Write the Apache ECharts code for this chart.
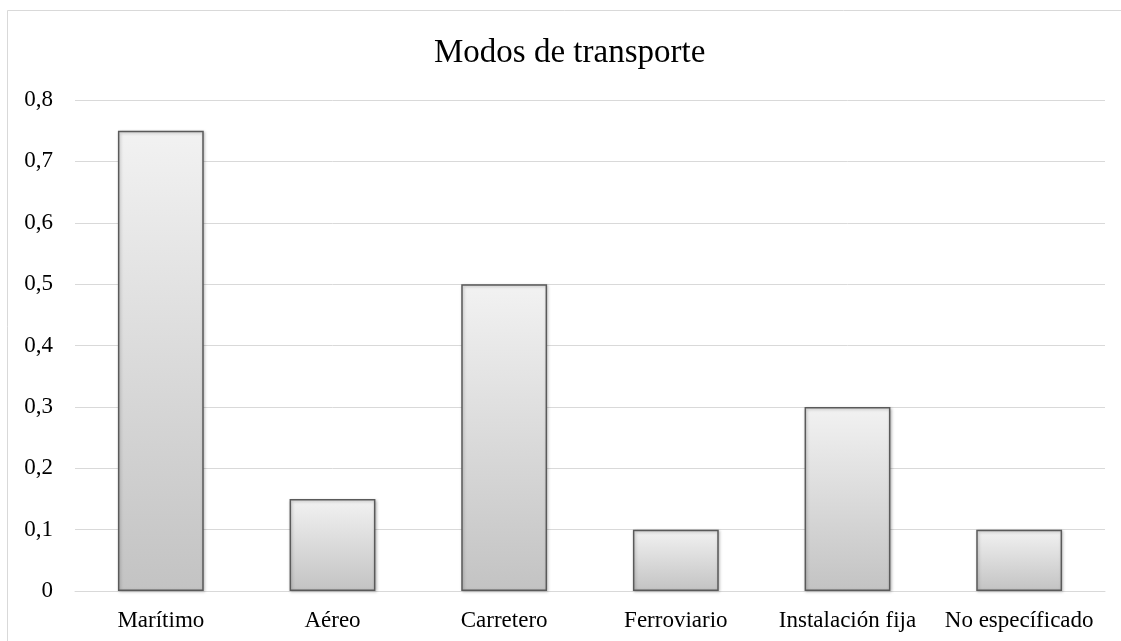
<!DOCTYPE html>
<html>
<head>
<meta charset="utf-8">
<script src="https://cdn.jsdelivr.net/npm/echarts@6/dist/echarts.min.js"></script>
<style>
  html, body { margin: 0; padding: 0; background: #fff; }
  #chart { width: 1121px; height: 641px; }
</style>
</head>
<body>
<div id="chart"></div>
<script>
// datos
const categories = ['Marítimo', 'Aéreo', 'Carretero', 'Ferroviario', 'Instalación fija', 'No específicado']
const values = [0.75, 0.15, 0.5, 0.1, 0.3, 0.1]
const yTicks = [0, 0.1, 0.2, 0.3, 0.4, 0.5, 0.6, 0.7, 0.8]

const font = '"Liberation Serif", "Times New Roman", serif'
const chart = echarts.init(document.getElementById('chart'))

chart.setOption({
  backgroundColor: '#fff',
  animation: false,
  graphic: [
    {
      type: 'rect',
      shape: { x: 7.5, y: 10.5, width: 1200, height: 700 },
      style: { fill: 'none', stroke: '#d9d9d9', lineWidth: 1 },
      silent: true
    }
  ],
  title: {
    text: 'Modos de transporte',
    left: 429,
    top: 32,
    textStyle: { fontFamily: font, fontSize: 33, fontWeight: 'normal', color: '#000' }
  },
  grid: { left: 75, right: 16, top: 100, bottom: 50 },
  xAxis: {
    type: 'category',
    data: categories,
    axisLine: { show: true, lineStyle: { color: '#d9d9d9', width: 1 } },
    axisTick: { show: false },
    axisLabel: { fontFamily: font, fontSize: 23, color: '#000', margin: 18, interval: 0 }
  },
  yAxis: {
    type: 'value',
    min: yTicks[0],
    max: yTicks[yTicks.length - 1],
    interval: 0.1,
    axisLine: { show: false },
    axisTick: { show: false },
    splitLine: { lineStyle: { color: '#d9d9d9', width: 1 } },
    axisLabel: {
      fontFamily: font,
      fontSize: 23,
      color: '#000',
      margin: 22,
      formatter: function (v) {
        return String(Math.round(v * 10) / 10).replace('.', ',')
      }
    }
  },
  series: [
    {
      type: 'bar',
      data: values,
      barWidth: '50%',
      itemStyle: {
        color: new echarts.graphic.LinearGradient(0, 0, 0, 1, [
          { offset: 0, color: '#f2f2f2' },
          { offset: 1, color: '#c3c3c3' }
        ]),
        borderColor: '#5a5a5a',
        borderWidth: 1.5,
        shadowColor: 'rgba(0,0,0,0.25)',
        shadowBlur: 3,
        shadowOffsetX: 1,
        shadowOffsetY: 1
      }
    }
  ]
})
</script>
</body>
</html>
